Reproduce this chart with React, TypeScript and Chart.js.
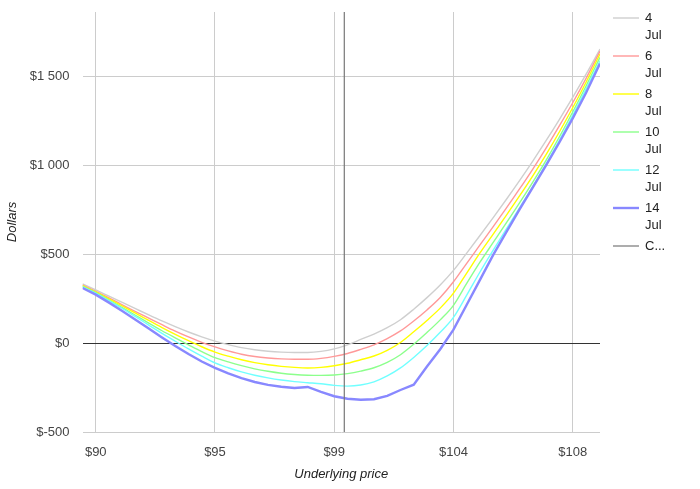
import { useEffect, useRef } from "react";
import { Chart, registerables } from "chart.js";

Chart.register(...registerables);

// underlying price grid (x) and P/L per expiry date (y, dollars)
const prices = [
  89.5, 90, 90.5, 91, 91.5, 92, 92.5, 93, 93.5, 94, 94.5, 95, 95.5, 96, 96.5, 97, 97.5, 98, 98.5, 99,
  99.5, 100, 100.5, 101, 101.5, 102, 102.5, 103, 103.5, 104, 104.5, 105, 105.5, 106, 106.5, 107, 107.5,
  108, 108.5, 109.03,
];
const jul4 = [
  332, 298, 263, 228, 193, 158, 124, 92, 62, 35, 11, -9, -26, -38, -46, -51, -53, -53, -47, -33, -10, 20,
  50, 86, 131, 190, 255, 326, 408, 505, 604, 705, 808, 914, 1024, 1138, 1257, 1380, 1509, 1652,
];
const jul6 = [
  326, 290, 253, 215, 177, 140, 103, 67, 34, 4, -22, -44, -63, -76, -84, -89, -91, -91, -86, -75, -59, -36,
  -10, 25, 68, 124, 186, 256, 344, 448, 551, 654, 759, 867, 979, 1097, 1221, 1350, 1486, 1640,
];
const jul8 = [
  322, 287, 248, 208, 168, 127, 87, 49, 13, -21, -51, -74, -94, -110, -122, -131, -137, -140, -137, -128,
  -114, -94, -73, -41, 3, 63, 127, 196, 280, 393, 506, 612, 719, 828, 941, 1060, 1187, 1322, 1464, 1624,
];
const jul10 = [
  319, 283, 241, 199, 156, 112, 69, 29, -10, -48, -82, -106, -127, -145, -159, -170, -177, -181, -182,
  -180, -172, -158, -139, -109, -66, -7, 59, 130, 212, 335, 454, 565, 676, 789, 906, 1028, 1159, 1298, 1443,
  1605,
];
const jul12 = [
  315, 279, 237, 194, 148, 101, 54, 10, -33, -74, -112, -139, -162, -181, -196, -208, -217, -223, -229,
  -238, -242, -236, -218, -185, -140, -81, -14, 60, 144, 269, 399, 522, 641, 761, 882, 1008, 1140, 1279,
  1425, 1586,
];
const jul14 = [
  309, 272, 227, 180, 131, 81, 31, -17, -62, -104, -140, -171, -197, -219, -235, -246, -253, -247, -275,
  -299, -313, -319, -316, -297, -264, -234, -132, -35, 75, 215, 355, 495, 625, 752, 876, 1000, 1128, 1262,
  1405, 1571,
];

const seriesNames = ["4 Jul", "6 Jul", "8 Jul", "10 Jul", "12 Jul", "14 Jul"];
const seriesValues = [jul4, jul6, jul8, jul10, jul12, jul14];
const seriesColors = ["#cfcfcf", "#ff9999", "#ffff00", "#8cff8c", "#70ffff", "#8888ff"];
const seriesWidths = [1.4, 1.4, 1.4, 1.4, 1.4, 2.4];

const currentLabel = "Current price";
const currentPrice = 99.38;

const xMin = 89.5;
const xMax = 109.03;
const xTickValues = [90, 94.5, 99, 103.5, 108];
const xTickLabels = ["$90", "$95", "$99", "$104", "$108"];
const yMin = -500;
const yMax = 1860;
const yTickValues = [-500, 0, 500, 1000, 1500];

const FONT = "'Liberation Sans', Arial, sans-serif";

function formatDollars(v: number) {
  return "$" + String(v).replace(/\B(?=(\d{3})+(?!\d))/g, " ");
}

function wrapLabel(ctx: CanvasRenderingContext2D, text: string, maxW: number) {
  const lines: string[] = [];
  let cur = "";
  for (const w of text.split(" ")) {
    const test = cur ? cur + " " + w : w;
    if (ctx.measureText(test).width <= maxW) {
      cur = test;
      continue;
    }
    if (cur) lines.push(cur);
    cur = "";
    if (ctx.measureText(w).width <= maxW) {
      cur = w;
    } else {
      let n = w.length - 1;
      while (n > 1 && ctx.measureText(w.slice(0, n) + "...").width > maxW) n--;
      lines.push(w.slice(0, n) + "...");
      return lines;
    }
  }
  if (cur) lines.push(cur);
  return lines;
}

const sideLegend = {
  id: "sideLegend",
  afterDraw(chart: any) {
    const { ctx, chartArea } = chart;
    const x0 = chartArea.right + 13;
    ctx.save();
    ctx.font = `13px ${FONT}`;
    ctx.textBaseline = "middle";
    let y = 18;
    chart.data.datasets.forEach((ds: any) => {
      const lines = wrapLabel(ctx, ds.label, 26);
      ctx.strokeStyle = ds.borderColor;
      ctx.lineWidth = ds.borderWidth;
      ctx.beginPath();
      ctx.moveTo(x0, y);
      ctx.lineTo(x0 + 26, y);
      ctx.stroke();
      ctx.fillStyle = "#222";
      lines.forEach((l, i) => ctx.fillText(l, x0 + 32, y + i * 17));
      y += lines.length * 17 + 4;
    });
    ctx.restore();
  },
};

function PayoffChart() {
  const chartRef = useRef<HTMLCanvasElement | null>(null);
  useEffect(() => {
    document.body.style.margin = "0";
    const ctx = chartRef.current?.getContext("2d");
    if (!ctx) return;

    const datasets: any[] = seriesValues.map((vals, i) => ({
      label: seriesNames[i],
      data: prices.map((p, j) => ({ x: p, y: vals[j] })),
      borderColor: seriesColors[i],
      borderWidth: seriesWidths[i],
      pointRadius: 0,
      // the last date is at expiry: keep its corners at the strikes sharp
      cubicInterpolationMode: i === 5 ? "default" : "monotone",
      tension: i === 5 ? 0 : 0.4,
      order: 10 - i,
    }));
    datasets.push({
      label: currentLabel,
      data: [
        { x: currentPrice, y: yMin },
        { x: currentPrice, y: yMax },
      ],
      borderColor: "#777777",
      borderWidth: 1.2,
      pointRadius: 0,
      order: 0,
    });

    const chart = new Chart(ctx, {
      type: "line",
      data: { datasets },
      plugins: [sideLegend],
      options: {
        animation: false,
        responsive: true,
        maintainAspectRatio: false,
        layout: { padding: { top: 12, right: 100, left: 0, bottom: 0 } },
        plugins: { legend: { display: false }, tooltip: { enabled: false } },
        scales: {
          x: {
            type: "linear",
            min: xMin,
            max: xMax,
            afterBuildTicks: (axis: any) => {
              axis.ticks = xTickValues.map((value) => ({ value }));
            },
            afterFit: (axis: any) => {
              axis.height = 57;
              axis.paddingLeft = 0;
              axis.paddingRight = 0;
            },
            ticks: {
              padding: 13,
              color: "#444",
              font: { family: FONT, size: 13 },
              maxRotation: 0,
              callback: (_v: any, i: number) => xTickLabels[i],
            },
            grid: { color: "#cccccc", drawTicks: false },
            border: { display: false },
            title: {
              display: true,
              text: "Underlying price",
              color: "#222",
              font: { family: FONT, size: 13, style: "italic" },
              padding: { top: 4, bottom: 7 },
            },
          },
          y: {
            type: "linear",
            min: yMin,
            max: yMax,
            afterBuildTicks: (axis: any) => {
              axis.ticks = yTickValues.map((value) => ({ value }));
            },
            afterFit: (axis: any) => {
              axis.width = 82.5;
              axis.paddingTop = 0;
              axis.paddingBottom = 0;
            },
            ticks: {
              padding: 13,
              color: "#444",
              font: { family: FONT, size: 13 },
              callback: (v: any) => formatDollars(Number(v)),
            },
            grid: {
              color: (c: any) => (c.tick && c.tick.value === 0 ? "#333333" : "#cccccc"),
              drawTicks: false,
            },
            border: { display: false },
            title: {
              display: true,
              text: "Dollars",
              color: "#222",
              font: { family: FONT, size: 13, style: "italic" },
              padding: { top: 5, bottom: 4 },
            },
          },
        },
      },
    });
    return () => chart.destroy();
  }, []);

  return (
    <div style={{ width: 700, height: 489, position: "relative" }}>
      <canvas ref={chartRef}></canvas>
    </div>
  );
}

export default function App() {
  return <PayoffChart />;
}
